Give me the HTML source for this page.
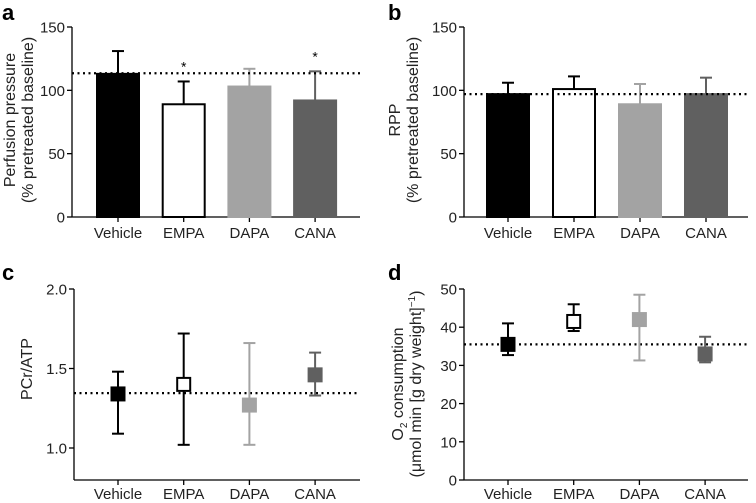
<!DOCTYPE html>
<html><head><meta charset="utf-8"><style>
body{margin:0;background:#fff}
svg{display:block;font-family:"Liberation Sans",sans-serif}
</style></head><body>
<svg id="fig" width="756" height="503" viewBox="0 0 756 503"></svg>
<script>
const categories=["Vehicle","EMPA","DAPA","CANA"];
const colors=["#000","#fff","#a3a3a3","#606060"];
const strokeCols=["#000","#000","#a3a3a3","#606060"];
const aValues=[113,89,103,92];
const aErrHigh=[131,107,117,115];
const aBaseline=113.5;
const aStars=[false,true,false,true];
const aTicks=[0,50,100,150];
const bValues=[97,101,89,97];
const bErrHigh=[106,111,105,110];
const bBaseline=97;
const bTicks=[0,50,100,150];
const cValues=[1.34,1.40,1.27,1.46];
const cLow=[1.09,1.02,1.02,1.33];
const cHigh=[1.48,1.72,1.66,1.60];
const cBaseline=1.345;
const cTicks=[1.0,1.5,2.0];
const dValues=[35.5,41.5,42,33];
const dLow=[32.7,39,31.3,30.8];
const dHigh=[41,46,48.5,37.5];
const dBaseline=35.5;
const dTicks=[0,10,20,30,40,50];

const NS="http://www.w3.org/2000/svg";
const svg=document.getElementById('fig');
function el(tag,attrs,parent){const e=document.createElementNS(NS,tag);for(const k in attrs)e.setAttribute(k,attrs[k]);(parent||svg).appendChild(e);return e;}
function txt(x,y,s,attrs,parent){const t=el('text',Object.assign({x:x,y:y},attrs),parent);t.textContent=s;return t;}

function panel(p){
  const g=el('g',{});
  
  
  const y=v=>p.y0-(v-p.v0)*(p.y0-p.y1)/(p.v1-p.v0);
  const xs=i=>p.xStart+i*p.xStep;
  const L=txt(p.letterX,p.letterY,p.letter,{'font-size':22,'font-weight':'bold'},g);
  
  
  const ya=el('line',{x1:p.ax,y1:p.axisBottom,x2:p.ax,y2:y(p.ticks[p.ticks.length-1]),stroke:'#000','stroke-width':1.3},g);
  
  
  const xa=el('line',{x1:p.ax,y1:p.axisBottom,x2:p.axEnd,y2:p.axisBottom,stroke:'#000','stroke-width':1.3},g);
  
  
  p.ticks.forEach(t=>{
    el('line',{x1:p.ax-5,y1:y(t),x2:p.ax,y2:y(t),stroke:'#000','stroke-width':1.3},g);
    const tl=txt(p.ax-7,y(t)+5.5,p.tickFmt(t),{'font-size':15,'text-anchor':'end',fill:'#222'},g);
    
    
  });
  categories.forEach((c,i)=>{
    el('line',{x1:xs(i),y1:p.axisBottom,x2:xs(i),y2:p.axisBottom+5,stroke:'#000','stroke-width':1.3},g);
    const cl=txt(xs(i),p.axisBottom+p.labOff,c,{'font-size':15,'text-anchor':'middle',fill:'#222'},g);
    
    
  });
  const tg=el('g',{transform:`translate(${p.titleX},${p.titleY}) rotate(-90)`},g);
  p.title.forEach((line,k)=>{
    const t=el('text',{x:0,y:k*18,'font-size':16,'text-anchor':'middle',fill:'#222'},tg);
    t.innerHTML=line;
    
    
  });
  if(p.type==='bar'){
    p.values.forEach((v,i)=>{
      const cx=xs(i);
      el('line',{x1:cx,y1:y(v),x2:cx,y2:y(p.high[i]),stroke:strokeCols[i],'stroke-width':2},g);
      el('line',{x1:cx-6,y1:y(p.high[i]),x2:cx+6,y2:y(p.high[i]),stroke:strokeCols[i],'stroke-width':2},g);
      const r=el('rect',{x:cx-21,y:y(v),width:42,height:y(0)-y(v),fill:colors[i],stroke:strokeCols[i],'stroke-width':2},g);
      
      
      if(p.stars&&p.stars[i]){
        const s=txt(cx,y(p.high[i])-10,'*',{'font-size':14,'text-anchor':'middle'},g);
        
        
      }
    });
  }
  const bl=el('line',{x1:p.ax,y1:y(p.baseline),x2:p.axEnd,y2:y(p.baseline),stroke:'#000','stroke-width':2.2,'stroke-dasharray':'2 3.5'},g);
  
  
  if(p.type==='point'){
    p.values.forEach((v,i)=>{
      const cx=xs(i);
      el('line',{x1:cx,y1:y(p.low[i]),x2:cx,y2:y(p.high[i]),stroke:strokeCols[i],'stroke-width':2},g);
      [p.low[i],p.high[i]].forEach(e=>el('line',{x1:cx-6,y1:y(e),x2:cx+6,y2:y(e),stroke:strokeCols[i],'stroke-width':2},g));
      const r=el('rect',{x:cx-6.5,y:y(v)-6.5,width:13,height:13,fill:colors[i],stroke:strokeCols[i],'stroke-width':2},g);
      
      
    });
  }
}
const fmt0=t=>String(t), fmt1=t=>t.toFixed(1);
panel({name:'panel-a-perfusion-pressure',letter:'a',letterX:2,letterY:20,type:'bar',ax:72,axEnd:360,axisBottom:217,labOff:21,y0:217,y1:27,v0:0,v1:150,xStart:118,xStep:65.7,ticks:aTicks,tickFmt:fmt0,values:aValues,high:aErrHigh,baseline:aBaseline,stars:aStars,title:['Perfusion pressure','(% pretreated baseline)'],titleX:15,titleY:120});
panel({name:'panel-b-rpp',letter:'b',letterX:388,letterY:20,type:'bar',ax:464,axEnd:748,axisBottom:217,labOff:21,y0:217,y1:27,v0:0,v1:150,xStart:508,xStep:66,ticks:bTicks,tickFmt:fmt0,values:bValues,high:bErrHigh,baseline:bBaseline,title:['RPP','(% pretreated baseline)'],titleX:400,titleY:120});
panel({name:'panel-c-pcr-atp',letter:'c',letterX:2,letterY:280,type:'point',ax:74,axEnd:360,axisBottom:480,labOff:19,y0:448,y1:289,v0:1.0,v1:2.0,xStart:118,xStep:65.7,ticks:cTicks,tickFmt:fmt1,values:cValues,low:cLow,high:cHigh,baseline:cBaseline,title:['PCr/ATP'],titleX:32,titleY:369});
panel({name:'panel-d-o2-consumption',letter:'d',letterX:388,letterY:280,type:'point',ax:464,axEnd:748,axisBottom:480,labOff:19,y0:480,y1:289,v0:0,v1:50,xStart:508,xStep:65.7,ticks:dTicks,tickFmt:fmt0,values:dValues,low:dLow,high:dHigh,baseline:dBaseline,title:['O<tspan font-size="10" dy="4">2</tspan><tspan dy="-4"> consumption</tspan>','(μmol min [g dry weight]<tspan font-size="10" dy="-6">−1</tspan><tspan dy="6">)</tspan>'],titleX:403,titleY:384});
</script>
</body></html>
